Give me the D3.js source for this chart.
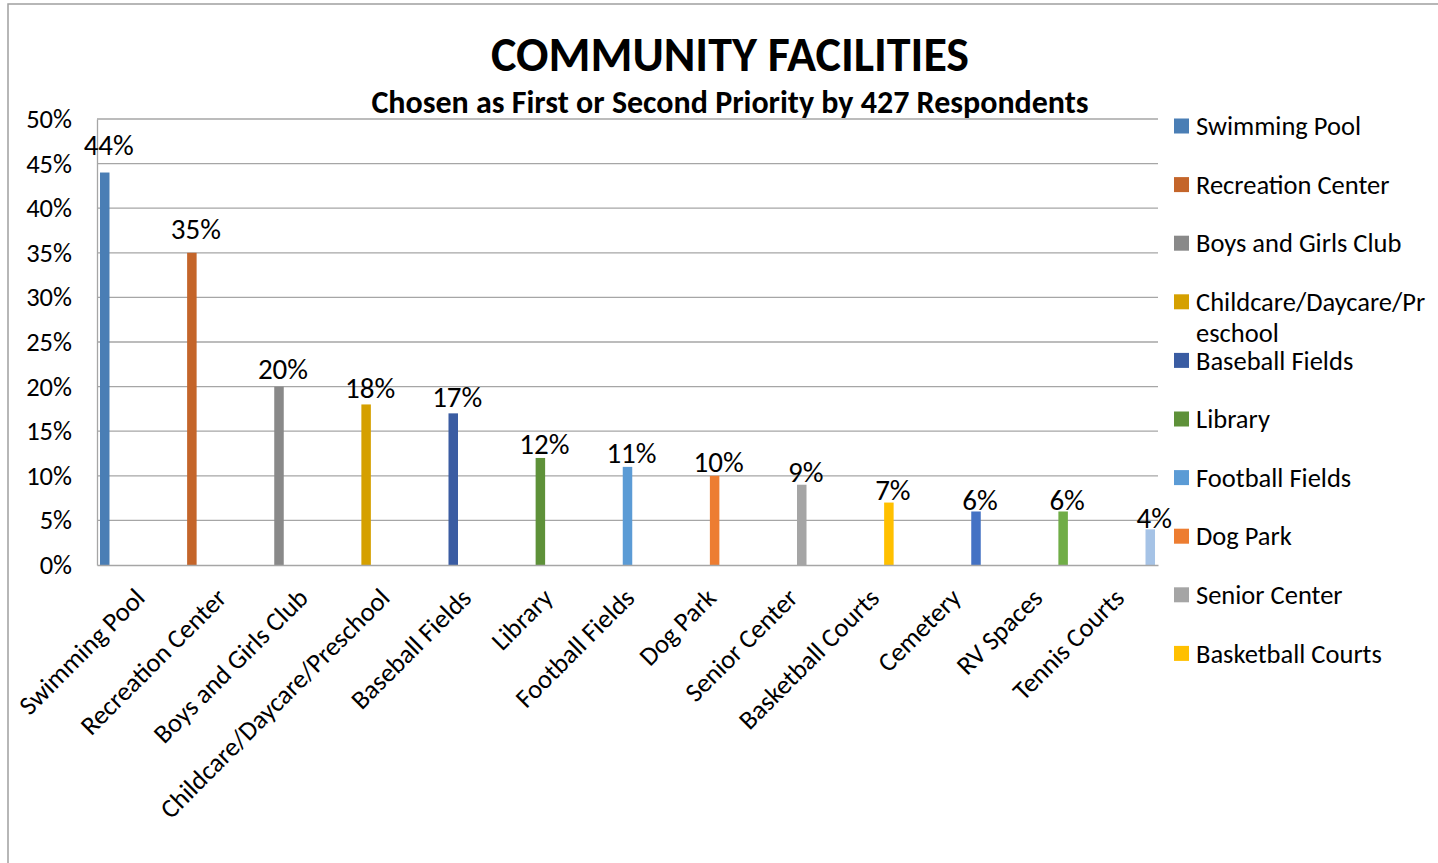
<!DOCTYPE html>
<html>
<head>
<meta charset="utf-8">
<title>Community Facilities</title>
<script src="https://cdn.jsdelivr.net/npm/d3@7"></script>
<style>
  html, body { margin: 0; padding: 0; background: #ffffff; }
  svg { display: block; }
  text { font-family: Calibri, Carlito, Lato, "Open Sans", sans-serif; fill: #000; }
</style>
</head>
<body>
<svg id="chart" width="1438" height="863"></svg>
<script>
// Facilities ranked by share of respondents naming them first or second priority
const categories = [
  "Swimming Pool", "Recreation Center", "Boys and Girls Club",
  "Childcare/Daycare/Preschool", "Baseball Fields", "Library",
  "Football Fields", "Dog Park", "Senior Center", "Basketball Courts",
  "Cemetery", "RV Spaces", "Tennis Courts"
];
const values = [44, 35, 20, 18, 17, 12, 11, 10, 9, 7, 6, 6, 4];
const colors = [
  "#4A7EB5", "#C4652A", "#898989", "#D5A000", "#3A5CA2", "#5E9139",
  "#5B9BD5", "#ED7D31", "#A5A5A5", "#FFC000", "#4472C4", "#70AD47", "#A6C3E6"
];
const yTicks = [0, 5, 10, 15, 20, 25, 30, 35, 40, 45, 50];
const title = "COMMUNITY FACILITIES";
const subtitle = "Chosen as First or Second Priority by 427 Respondents";

const svg = d3.select("#chart");
const W = 1438, H = 863;
const plot = { left: 97, right: 1158, top: 119, bottom: 565 };

svg.append("rect").attr("width", W).attr("height", H).attr("fill", "#fff");

// outer chart frame (runs past the right and bottom edges)
svg.append("rect")
  .attr("x", 8).attr("y", 4)
  .attr("width", W + 10).attr("height", H + 10)
  .attr("fill", "none").attr("stroke", "#a0a0a0").attr("stroke-width", 1.5);

// scales: one band per category, one slot per series inside each band
const x = d3.scaleBand().domain(categories).range([plot.left, plot.right]);
const slot = d3.scaleBand().domain(categories)
  .range([0, x.bandwidth()]).paddingInner(0).paddingOuter(0.905);
const y = d3.scaleLinear().domain([0, 50]).range([plot.bottom, plot.top]);
const yLabel = d3.scaleLinear().domain([0, 50]).range([plot.bottom + 0.5, plot.top - 20]);
const barW = 9.5;
const barCenter = (c) => x(c) + slot(c) + slot.bandwidth() / 2;

// gridlines
svg.append("g").selectAll("line").data(yTicks.filter(t => t > 0)).join("line")
  .attr("x1", plot.left).attr("x2", plot.right)
  .attr("y1", d => y(d)).attr("y2", d => y(d))
  .attr("stroke", "#a6a6a6").attr("stroke-width", 1.3);

// y axis
const yAxis = svg.append("g").attr("transform", `translate(${plot.left},0)`)
  .call(d3.axisLeft(y).tickValues(yTicks).tickSize(0).tickPadding(25)
    .tickFormat(d => d + "%"));
yAxis.select(".domain").attr("stroke", "#a6a6a6").attr("stroke-width", 1.3);
yAxis.selectAll("text").attr("font-size", 26.5).attr("font-family", null);

// bars
svg.append("g").selectAll("rect").data(categories).join("rect")
  .attr("x", (c) => barCenter(c) - barW / 2)
  .attr("width", barW)
  .attr("y", (c, i) => y(values[i]))
  .attr("height", (c, i) => y(0) - y(values[i]))
  .attr("fill", (c, i) => colors[i]);

// x axis
const xAxis = svg.append("g").attr("transform", `translate(0,${plot.bottom})`)
  .call(d3.axisBottom(x).tickSize(0).tickFormat(""));
xAxis.select(".domain").attr("stroke", "#a6a6a6").attr("stroke-width", 1.3);
xAxis.selectAll(".tick").each(function (c) {
  d3.select(this).append("text")
    .attr("transform", `translate(2,28) rotate(-45)`)
    .attr("text-anchor", "end")
    .attr("dy", "0.35em")
    .attr("font-size", 26.5)
    .attr("fill", "#000")
    .text(c);
});

// data labels
svg.append("g").selectAll("text").data(categories).join("text")
  .attr("x", (c) => barCenter(c) + 4)
  .attr("y", (c, i) => yLabel(values[i]))
  .attr("text-anchor", "middle")
  .attr("font-size", 29)
  .text((c, i) => values[i] + "%");

// titles
svg.append("text").attr("x", 730).attr("y", 71)
  .attr("text-anchor", "middle").attr("font-size", 48).attr("font-weight", "bold")
  .text(title);
svg.append("text").attr("x", 730).attr("y", 113)
  .attr("text-anchor", "middle").attr("font-size", 32).attr("font-weight", "bold")
  .text(subtitle);

// legend: fixed row pitch, long names wrap by character, rows past the box are dropped
const legend = { x: 1174, top: 126, step: 58.6, bottom: 690, maxW: 238, size: 26.5, lineGap: 31 };
const lg = svg.append("g");
categories.forEach((c, i) => {
  const cy = legend.top + i * legend.step;
  if (cy > legend.bottom) return;
  lg.append("rect").attr("x", legend.x).attr("y", cy - 7.5)
    .attr("width", 15).attr("height", 15).attr("fill", colors[i]);
  const t = lg.append("text").attr("x", legend.x + 22).attr("y", cy)
    .attr("font-size", legend.size);
  let line = "", lines = [];
  for (const ch of c) {
    t.text(line + ch);
    if (t.node().getComputedTextLength() > legend.maxW && line) {
      lines.push(line); line = ch;
    } else line += ch;
  }
  lines.push(line);
  t.text(null);
  lines.forEach((l, k) => {
    t.append("tspan").attr("x", legend.x + 22)
      .attr("dy", k === 0 ? "0.35em" : legend.lineGap).text(l);
  });
});
</script>
</body>
</html>
